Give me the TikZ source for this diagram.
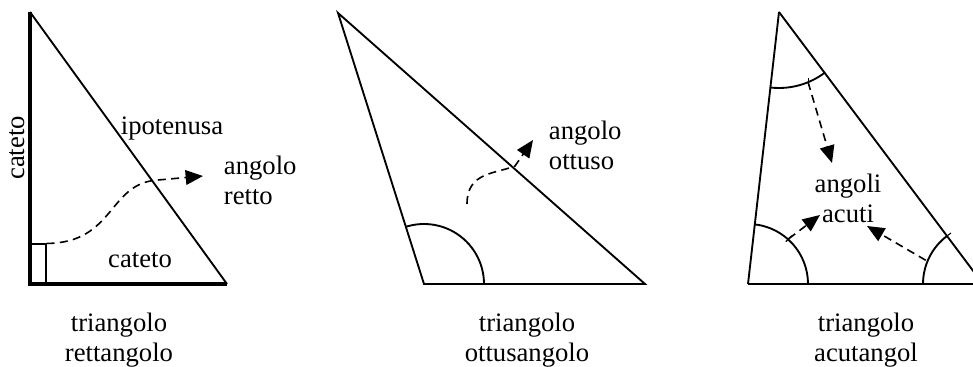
\documentclass[tikz,border=0pt]{standalone}
\usepackage{fontspec}
\setmainfont{Liberation Serif}
\usetikzlibrary{arrows.meta,calc}

\begin{document}
\begin{tikzpicture}[x=0.75pt, y=0.75pt, line width=1.4pt,
    every node/.style={inner sep=0pt, font=\fontsize{20}{22.5}\selectfont},
    pointer/.style={line width=1.2pt, dash pattern=on 6pt off 4pt, -{Triangle[length=13pt, width=11pt]}},
    tick/.style={line width=0.8pt}]
    \useasboundingbox (0,0) rectangle (973,367);
    % triangolo rettangolo
    \coordinate (a1) at (30,355);
    \coordinate (b1) at (30,83);
    \coordinate (c1) at (227,83);
        \draw (a1) -- (c1);
        \draw[line width=2.4pt] (a1) -- (b1) -- (c1);
    \node[draw, line width=1.4pt, minimum width=11pt, minimum height=29pt, anchor=south west] (r1) at (b1) {};
    \node[rotate=90] (l1) at (17,219) {cateto};
    \node (l2) at (140,107) {cateto};
    \node (l3) at (172,238) {ipotenusa};
    \node[align=left, anchor=west] (l4) at (223,187) {angolo\\retto};
        \draw[pointer] (r1.north east) .. controls (115,124) and (108,184) .. (158,187) -- (203,191);
    % triangolo ottusangolo
    \coordinate (a2) at (338,354);
    \coordinate (b2) at (424,83);
    \coordinate (c2) at (645,83);
        \draw (a2) -- (b2) -- (c2) -- cycle;
        \draw ($(b2)+(60,0)$) arc[start angle=0, end angle=107.6, radius=60];
    \node[align=left, anchor=west] (l5) at (548,222) {angolo\\ottuso};
        \draw[pointer] (467,163) .. controls (467,195) and (495,193) .. (515,201) -- (533,227);
    % triangolo acutangolo
    \coordinate (a3) at (779,355);
    \coordinate (b3) at (748,83);
    \coordinate (c3) at (983,83);
        \draw (a3) -- (b3);
        \draw (a3) -- (c3);
        \draw[line width=2pt] (b3) -- (c3);
        \draw (a3) ++(263.5:76) arc[start angle=263.5, end angle=306.9, radius=76];
        \draw (b3) ++(60,0) arc[start angle=0, end angle=83.5, radius=60];
        \draw (c3) ++(-60,0) arc[start angle=180, end angle=126.9, radius=60];
    \coordinate (t1) at ($(a3)+(292.5:76)$);
    \coordinate (t2) at ($(b3)+(48:61)$);
    \coordinate (t3) at ($(c3)+(126.9:60)$);
    \coordinate (t4) at ($(c3)+(157.5:62)$);
        \draw[tick] ($(t1)+(0,-4)$) -- ($(t1)+(0,4)$);
        \draw[tick] ($(t2)+(-3,-3)$) -- ($(t2)+(3,3)$);
        \draw[tick] ($(t3)+(-4,-3)$) -- ($(t3)+(4,3)$);
    \node[align=center] (l6) at (848,169) {angoli\\acuti};
        \draw[pointer] (t1) -- (832,204);
        \draw[pointer] (t2) -- (820,152);
        \draw[pointer] (t4) -- (867,141);
    % didascalie
    \node[align=center] (d1) at (119,27) {triangolo\\rettangolo};
    \node[align=center] (d2) at (527,27) {triangolo\\ottusangolo};
    \node[align=center] (d3) at (866,27) {triangolo\\acutangol};
\end{tikzpicture}
\end{document}
